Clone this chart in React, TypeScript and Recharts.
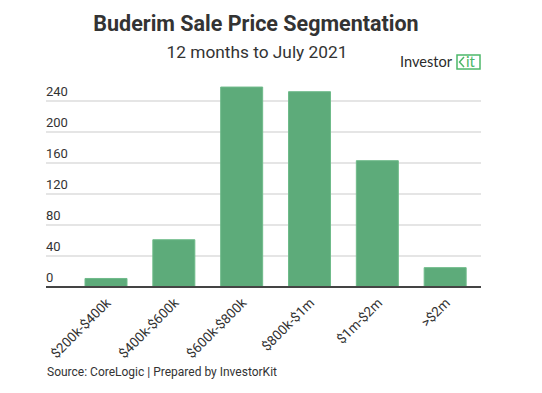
import React from "react";
import { BarChart, Bar, XAxis, YAxis, CartesianGrid } from "recharts";

const categories = ["$200k-$400k", "$400k-$600k", "$600k-$800k", "$800k-$1m", "$1m-$2m", ">$2m"];
const sales = [11, 61, 258, 252, 163, 25];
const yTicks = [0, 40, 80, 120, 160, 200, 240];

const data = categories.map((c, i) => ({ name: c, value: sales[i] }));

const FONT = "Roboto, 'Noto Sans', sans-serif";

export default function App() {
  return (
    <div style={{ position: "absolute", left: 0, top: 0, width: 542, height: 393, background: "#fff", fontFamily: FONT }}>
      <div style={{ position: "absolute", left: 0, width: 512, top: 10, textAlign: "center", fontSize: 21.5, fontWeight: 700, color: "#333", lineHeight: "28px" }}>
        Buderim Sale Price Segmentation
      </div>
      <div style={{ position: "absolute", left: 0, width: 514, top: 42, textAlign: "center", fontSize: 17.3, color: "#333", lineHeight: "20px" }}>
        12 months to July 2021
      </div>
      <svg style={{ position: "absolute", left: 398, top: 53 }} width={86} height={18}>
        <text x={2} y={14} fontFamily="Lato, 'Open Sans', sans-serif" fontSize={15} textLength={52} lengthAdjust="spacingAndGlyphs" fill="#2b2b2b">Investor</text>
        <rect x={59} y={2} width={23} height={14} fill="none" stroke="#4cb86a" strokeWidth={1.5} />
        <polyline points="66,4 61.5,9 66,14" fill="none" stroke="#4cb86a" strokeWidth={1.5} />
        <text x={68} y={14} fontFamily="Lato, 'Open Sans', sans-serif" fontSize={15} fill="#4cb86a">it</text>
      </svg>
      <BarChart
        width={542}
        height={393}
        data={data}
        margin={{ top: 70, right: 61, left: 46, bottom: 105 }}
      >
        <CartesianGrid vertical={false} stroke="#dcdcdc" strokeWidth={1.5} horizontalValues={yTicks} />
        <YAxis
          width={1}
          mirror
          domain={[0, 280]}
          ticks={yTicks}
          axisLine={false}
          tickLine={false}
          tickSize={0}
          tickMargin={0}
          tick={{ fill: "#333", fontSize: 13, fontFamily: FONT, dy: -10, textAnchor: "start" }}
        />
        <XAxis
          dataKey="name"
          interval={0}
          padding={{ left: 26, right: 2 }}
          axisLine={{ stroke: "#444", strokeWidth: 2 }}
          tickLine={false}
          angle={-45}
          textAnchor="end"
          tickMargin={4}
          tick={{ fill: "#333", fontSize: 13.5, fontFamily: FONT, dx: -1 }}
          height={1}
        />
        <Bar dataKey="value" fill="#5dab7a" stroke="#6fbb8a" strokeWidth={1} barSize={42} isAnimationActive={false} />
      </BarChart>
      <div style={{ position: "absolute", left: 47, top: 364, fontSize: 12, color: "#333", lineHeight: "16px" }}>
        Source: CoreLogic | Prepared by InvestorKit
      </div>
    </div>
  );
}
